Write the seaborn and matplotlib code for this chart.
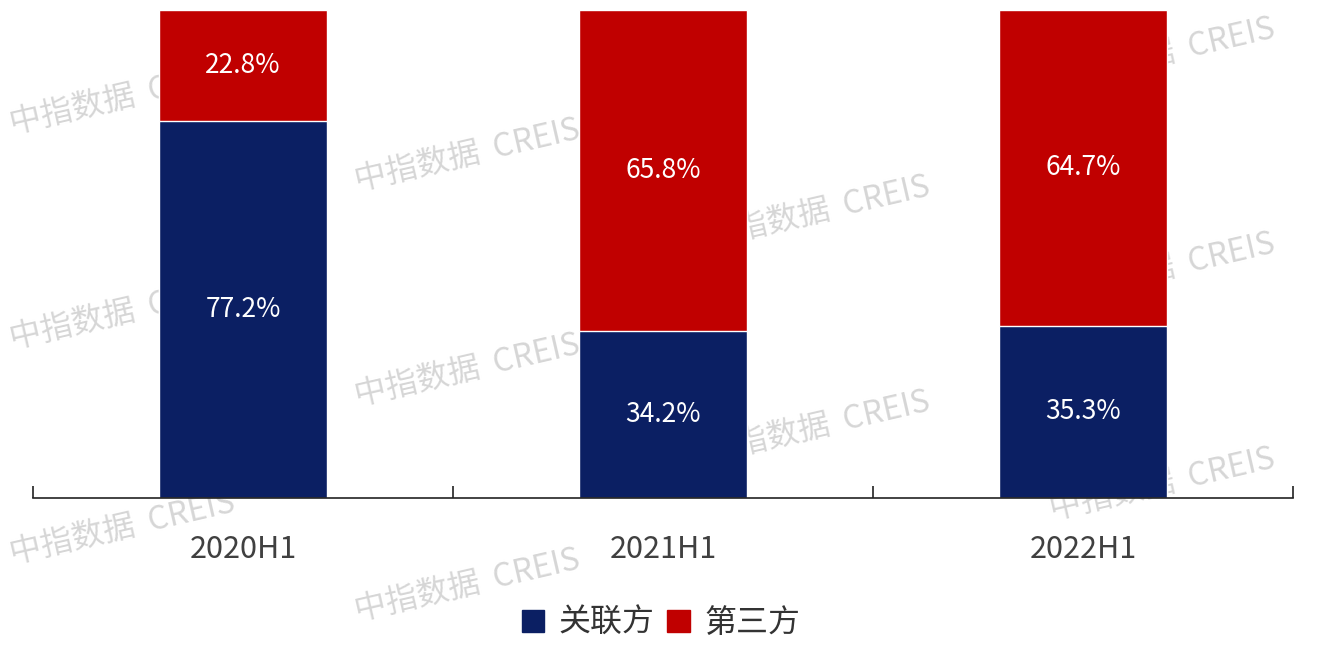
import matplotlib
matplotlib.use("Agg")
import matplotlib.pyplot as plt
from matplotlib.patches import Patch
import seaborn as sns
import pandas as pd

# 数据
periods = ["2020H1", "2021H1", "2022H1"]
related = [77.2, 34.2, 35.3]      # 关联方
third_party = [22.8, 65.8, 64.7]  # 第三方

blue = "#0b1f63"
red = "#c00000"

sns.set_theme(style="white")
plt.rcParams['font.family'] = ['Noto Sans CJK SC', 'DejaVu Sans']

df = pd.DataFrame({"period": periods, "related": related, "third": third_party})
df["total"] = df["related"] + df["third"]

fig = plt.figure(figsize=(13.22, 6.6), dpi=100)
ax = fig.add_axes([33 / 1322, 162 / 660, 1260 / 1322, 488 / 660])
ax.patch.set_alpha(0)

# 堆积柱：先画总高度（红），再画底部（蓝）
sns.barplot(data=df, x="period", y="total", color=red, width=0.4, saturation=1, ax=ax)
sns.barplot(data=df, x="period", y="related", color=blue, width=0.4, saturation=1, ax=ax)

for i in range(len(periods)):
    ax.text(i, related[i] / 2, f"{related[i]:.1f}%", ha="center", va="center",
            color="white", fontsize=19, fontweight="light")
    ax.text(i, related[i] + third_party[i] / 2, f"{third_party[i]:.1f}%", ha="center",
            va="center", color="white", fontsize=19, fontweight="light")

ax.set_xlim(-0.5, len(periods) - 0.5)
ax.set_ylim(0, 100)
ax.set_xlabel("")
ax.set_ylabel("")
ax.set_yticks([])
for s in ["left", "right", "top"]:
    ax.spines[s].set_visible(False)
ax.spines["bottom"].set_color("#222222")
ax.spines["bottom"].set_linewidth(1.2)

ax.set_xticks(range(len(periods)))
ax.set_xticklabels(periods, fontsize=22, color="#404040", fontweight="light")
ax.tick_params(axis="x", which="major", length=0, pad=26)
ax.set_xticks([i - 0.5 for i in range(len(periods) + 1)], minor=True)
ax.tick_params(axis="x", which="minor", bottom=True, direction="in", length=9,
               width=1.2, color="#222222")

# 图例
handles = [Patch(color=blue, label="关联方"), Patch(color=red, label="第三方")]
fig.legend(handles=handles, loc="center", bbox_to_anchor=(0.5, 1 - 623 / 660), ncol=2,
           frameon=False, prop={"size": 23, "weight": "light"}, handlelength=0.7,
           handleheight=0.7, handletextpad=0.45, columnspacing=0.4, labelcolor="#333333")

# 水印（在柱子后面）
cols_x = [10, 355, 705, 1050]
for c, x0 in enumerate(cols_x):
    for r in range(-2, 4):
        y0 = 125 + 57 * c + 215 * r
        if 70 < y0 < 640:
            t = fig.text(x0 / 1322, 1 - y0 / 660, "中指数据  CREIS", fontsize=23,
                         color="#d6d6d6", rotation=13, ha="left", va="center",
                         rotation_mode="anchor", fontweight="light")
            t.set_zorder(-1)

fig.savefig("out.png", dpi=100)
